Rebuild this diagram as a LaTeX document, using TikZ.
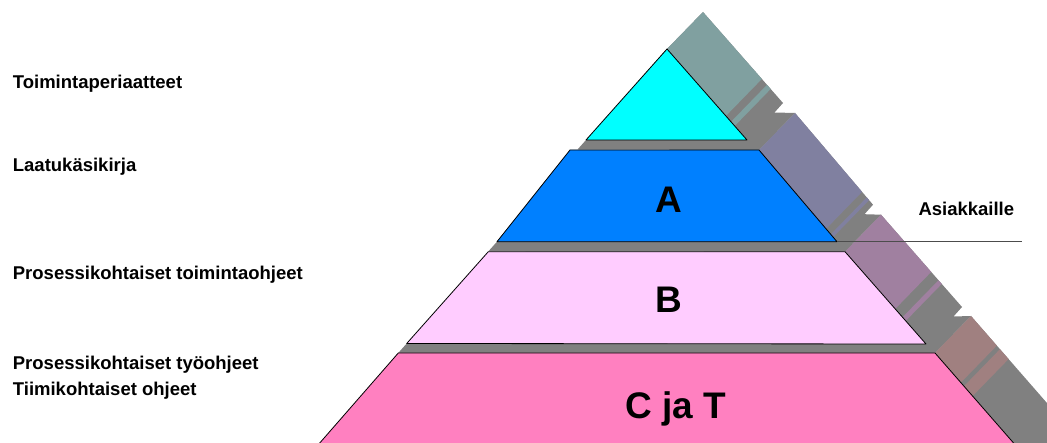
\documentclass[tikz,border=0pt]{standalone}
\usepackage{fontspec}
\setmainfont{Liberation Sans}
\usetikzlibrary{calc}
\definecolor{LayerCyan}{HTML}{00FFFF}
\definecolor{LayerBlue}{HTML}{0080FF}
\definecolor{LayerLilac}{HTML}{FFCCFF}
\definecolor{LayerPink}{HTML}{FF80C0}
\definecolor{SideTeal}{HTML}{80A0A0}
\definecolor{SideBlue}{HTML}{8080A0}
\definecolor{SideLilac}{HTML}{A080A0}
\definecolor{SidePink}{HTML}{A08080}
\definecolor{BandGray}{HTML}{808080}
% one coloured strip of a side face, from fraction #3 to #4 of the edge #1--#2
\newcommand{\sidestrip}[5]{\fill[#5] ($(#1)!#3!(#2)$) -- ($(#1)!#3!(#2)+(36,-37)$) -- ($(#1)!#4!(#2)+(36,-37)$) -- ($(#1)!#4!(#2)$) -- cycle;}

\begin{document}
\begin{tikzpicture}[x=1pt, y=-1pt, layer/.style={draw=black, line width=0.8pt, line join=round}, grayband/.style={fill=BandGray}, sidetext/.style={font=\fontsize{18.5}{20}\selectfont\bfseries, anchor=base west, inner sep=0pt}, letter/.style={font=\fontsize{37}{40}\selectfont\bfseries, anchor=base, inner sep=0pt}]
\useasboundingbox (0,0) rectangle (1047,443);
\clip (0,0) rectangle (1047,443);
% corners of the layers
\coordinate (Ta) at (667,49); \coordinate (Tbl) at (586,140); \coordinate (Tbr) at (747,140);
\coordinate (Atl) at (570,150); \coordinate (Atr) at (759,150); \coordinate (Abr) at (837,241.7); \coordinate (Abl) at (497,241.7);
\coordinate (Btl) at (488.3,251.7); \coordinate (Btr) at (845,251.7); \coordinate (Bbr) at (926,344); \coordinate (Bbl) at (406.7,343.5);
\coordinate (Ctl) at (398.3,353); \coordinate (Ctr) at (935,353); \coordinate (Cbr) at (1013.3,442.7); \coordinate (Cbl) at (320,442.7);
% top triangle
\fill[grayband] ($(Tbl)+(-8.5,9.5)$) -- (Tbl) -- (Ta) -- ($(Ta)+(36,-37)$) -- ($(Tbr)+(36,-37)$) -- ($(Tbr)+(27.5,-27.5)$) -- ($(Atr)+(36,-37)$) -- (Atr) -- cycle;
\sidestrip{Ta}{Tbr}{0}{0.736}{SideTeal} \sidestrip{Ta}{Tbr}{0.80}{0.846}{SideTeal}
\draw[layer, fill=LayerCyan] (Ta) -- (Tbr) -- (Tbl) -- cycle;
% layer A
\fill[grayband] ($(Abl)+(-8.5,9.5)$) -- (Abl) -- (Atl) -- (Atr) -- ($(Atr)+(36,-37)$) -- ($(Abr)+(36,-37)$) -- ($(Abr)+(27.5,-27.5)$) -- ($(Btr)+(36,-37)$) -- (Btr) -- cycle;
\sidestrip{Atr}{Abr}{0}{0.86}{SideBlue} \sidestrip{Atr}{Abr}{0.92}{0.95}{SideBlue}
\draw[layer, fill=LayerBlue] (Atl) -- (Atr) -- (Abr) -- (Abl) -- cycle;
% layer B
\fill[grayband] ($(Bbl)+(-8.5,9.5)$) -- (Bbl) -- (Btl) -- (Btr) -- ($(Btr)+(36,-37)$) -- ($(Bbr)+(36,-37)$) -- ($(Bbr)+(27.5,-27.5)$) -- ($(Ctr)+(36,-37)$) -- (Ctr) -- cycle;
\sidestrip{Btr}{Bbr}{0}{0.62}{SideLilac} \sidestrip{Btr}{Bbr}{0.71}{0.75}{SideLilac}
\draw[layer, fill=LayerLilac] (Btl) -- (Btr) -- (Bbr) -- (Bbl) -- cycle;
% layer C, cut by the lower edge
\fill[grayband] (Ctr) -- ($(Ctr)+(36,-37)$) -- ($(Ctr)!1.4!(Cbr)+(36,-37)$) -- ($(Ctr)!1.4!(Cbr)$) -- cycle;
\sidestrip{Ctr}{Cbr}{0}{0.33}{SidePink} \sidestrip{Ctr}{Cbr}{0.37}{0.48}{SidePink}
\draw[layer, fill=LayerPink] (Ctl) -- (Ctr) -- ($(Ctr)!1.2!(Cbr)$) -- ($(Ctl)!1.2!(Cbl)$) -- cycle;
% letters
\node[letter] (lA) at (669,212.3) {A};
\node[letter] (lB) at (668.7,312.3) {B};
\node[letter] (lC) at (676,418.3) {C ja T};
% texts on the left
\node[sidetext] (toim) at (12.7,88.3) {Toimintaperiaatteet};
\node[sidetext] (laat) at (12.7,171.7) {Laatukäsikirja};
\node[sidetext] (ptoi) at (12.7,280) {Prosessikohtaiset toimintaohjeet};
\node[sidetext] (ptyo) at (12.7,370) {Prosessikohtaiset työohjeet};
\node[sidetext] (tiim) at (12.7,395.5) {Tiimikohtaiset ohjeet};
% customers line
\coordinate (cutEnd) at (1021.7,241.7);
\draw[line width=0.8pt, draw=black!70] (Abr) -- (cutEnd);
\node[sidetext] (asiak) at (918.3,216) {Asiakkaille};
\end{tikzpicture}
\end{document}
